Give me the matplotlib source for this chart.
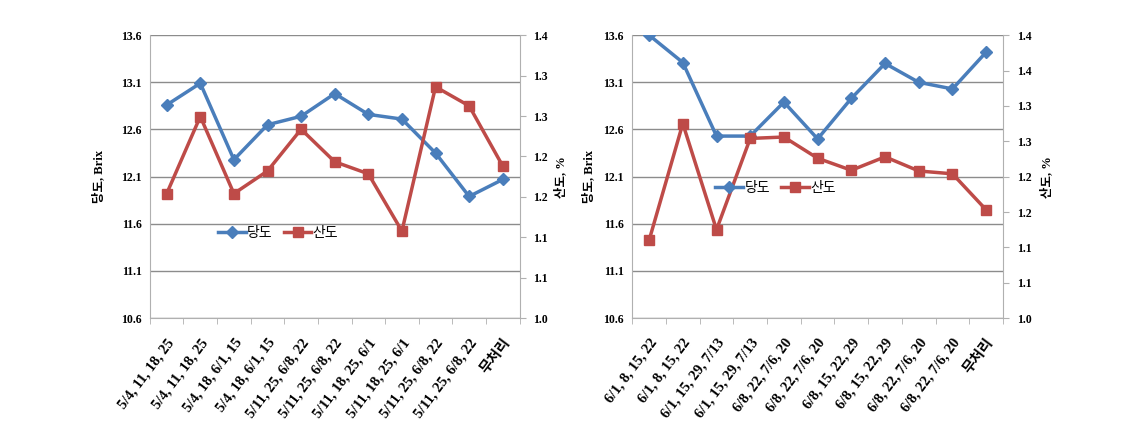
import matplotlib.pyplot as plt
import numpy as np
from matplotlib.ticker import FixedLocator, FixedFormatter

plt.rcParams['font.family'] = ['Liberation Serif', 'Noto Sans CJK KR']

# left panel data
left_labels = ['5/4, 11, 18, 25', '5/4, 11, 18, 25', '5/4, 18, 6/1, 15', '5/4, 18, 6/1, 15',
               '5/11, 25, 6/8, 22', '5/11, 25, 6/8, 22', '5/11, 18, 25, 6/1', '5/11, 18, 25, 6/1',
               '5/11, 25, 6/8, 22', '5/11, 25, 6/8, 22', '무처리']
left_brix = [12.86, 13.09, 12.28, 12.65, 12.74, 12.98, 12.76, 12.71, 12.35, 11.89, 12.07]
left_acid = [1.176, 1.285, 1.176, 1.208, 1.267, 1.221, 1.204, 1.123, 1.327, 1.300, 1.215]
left_acid_ticklabels = ['1.0', '1.1', '1.1', '1.2', '1.2', '1.3', '1.3', '1.4']

# right panel data
right_labels = ['6/1, 8, 15, 22', '6/1, 8, 15, 22', '6/1, 15, 29, 7/13', '6/1, 15, 29, 7/13',
                '6/8, 22, 7/6, 20', '6/8, 22, 7/6, 20', '6/8, 15, 22, 29', '6/8, 15, 22, 29',
                '6/8, 22, 7/6, 20', '6/8, 22, 7/6, 20', '무처리']
right_brix = [13.60, 13.31, 12.53, 12.53, 12.89, 12.50, 12.93, 13.30, 13.10, 13.03, 13.42]
right_acid = [1.110, 1.275, 1.125, 1.254, 1.256, 1.226, 1.209, 1.228, 1.208, 1.204, 1.153]
right_acid_ticklabels = ['1.0', '1.1', '1.1', '1.2', '1.2', '1.3', '1.3', '1.4', '1.4']

brix_ticks = [10.6, 11.1, 11.6, 12.1, 12.6, 13.1, 13.6]

BLUE = '#4a7ebb'
RED = '#be4b48'
GRID = '#8c8c8c'
SPINE = '#b0b0b0'

fig = plt.figure(figsize=(11.27, 4.34), dpi=100)


def draw_panel(rect, labels, brix, acid, acid_ticklabels, legend_pos, lab_x):
    ax = fig.add_axes(rect)
    ax2 = ax.twinx()
    x = np.arange(len(labels))

    ax.set_xlim(-0.5, len(labels) - 0.5)
    ax.set_ylim(10.6, 13.6)
    ax.set_yticks(brix_ticks)
    ax.set_yticklabels([f'{v:.1f}' for v in brix_ticks], fontsize=8.5, fontweight='bold')
    ax.yaxis.grid(True, color=GRID, linewidth=1.0)
    ax.set_axisbelow(True)
    ax.tick_params(axis='y', length=0, pad=6)

    ax.xaxis.set_major_locator(FixedLocator(x))
    ax.xaxis.set_major_formatter(FixedFormatter(labels))
    ax.xaxis.set_minor_locator(FixedLocator(np.arange(len(labels) + 1) - 0.5))
    ax.tick_params(axis='x', which='major', length=0, pad=13)
    ax.tick_params(axis='x', which='minor', length=4, color=SPINE, direction='out')
    for lab in ax.get_xticklabels():
        lab.set_rotation(53)
        lab.set_ha('right')
        lab.set_rotation_mode('anchor')
        lab.set_fontsize(10.5)
        lab.set_fontweight('bold')

    acid_ticks = np.linspace(1.0, 1.4, len(acid_ticklabels))
    ax2.set_ylim(1.0, 1.4)
    ax2.set_yticks(acid_ticks)
    ax2.set_yticklabels(acid_ticklabels, fontsize=8.5, fontweight='bold')
    ax2.tick_params(axis='y', length=4, color=SPINE, direction='out', pad=6)

    for a in (ax, ax2):
        a.spines['top'].set_visible(False)
        for s in ('left', 'right', 'bottom'):
            a.spines[s].set_color(SPINE)
    ax.spines['right'].set_visible(False)
    ax2.spines['left'].set_visible(False)
    ax2.spines['bottom'].set_visible(False)

    l1, = ax.plot(x, brix, color=BLUE, linewidth=2.5, marker='D', markersize=6,
                  markerfacecolor=BLUE, markeredgecolor=BLUE, label='당도')
    l2, = ax2.plot(x, acid, color=RED, linewidth=2.5, marker='s', markersize=7,
                   markerfacecolor=RED, markeredgecolor=RED, label='산도')

    ax.set_ylabel('당도, Brix', fontsize=9, fontweight='bold')
    ax2.set_ylabel('산도, %', fontsize=9, fontweight='bold')
    ax.yaxis.set_label_coords(lab_x[0], 0.5)
    ax2.yaxis.set_label_coords(lab_x[1], 0.5)

    ax2.legend([l1, l2], ['당도', '산도'], loc='center left', bbox_to_anchor=legend_pos,
               frameon=False, ncol=2, handlelength=2.0, handletextpad=0.1,
               columnspacing=0.8, prop={'family': 'Noto Sans CJK KR', 'size': 10})
    return ax, ax2


draw_panel([0.133, 0.267, 0.328, 0.652], left_labels, left_brix, left_acid,
           left_acid_ticklabels, (0.15, 0.30), (-0.12, 1.095))
draw_panel([0.561, 0.267, 0.329, 0.652], right_labels, right_brix, right_acid,
           right_acid_ticklabels, (0.19, 0.46), (-0.10, 1.10))

fig.savefig('out.png', dpi=100)
